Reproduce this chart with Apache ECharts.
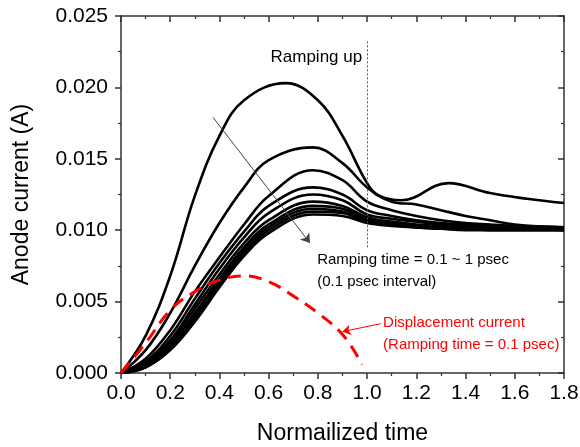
<!DOCTYPE html>
<html>
<head>
<meta charset="utf-8">
<script src="https://cdn.jsdelivr.net/npm/echarts@6/dist/echarts.min.js"></script>
<style>
  html, body { margin: 0; padding: 0; background: #fff; }
  #main { width: 580px; height: 447px; }
</style>
</head>
<body>
<div id="main"></div>
<script>
// ramping time 0.1 psec: own time samples (peak near 0.67, bump near 1.33)
const times1 = [0, 0.1, 0.2, 0.3, 0.4, 0.5, 0.67, 0.8, 0.9, 1.0, 1.05, 1.14, 1.33, 1.5, 1.65, 1.8];
const r01 = [0, 0.0026, 0.0068, 0.0124, 0.0166, 0.0191, 0.0203, 0.0191, 0.0166, 0.0133, 0.0124, 0.0121, 0.0133, 0.0126, 0.0122, 0.0119];

// ramping time 0.2 ... 1.0 psec share these samples (peaks near 0.78)
const times = [0, 0.1, 0.2, 0.3, 0.4, 0.5, 0.6, 0.78, 0.9, 1.0, 1.1, 1.2, 1.3, 1.4, 1.5, 1.6, 1.8];
const r02 = [0, 0.0016, 0.0042, 0.0075, 0.0105, 0.0130, 0.0149, 0.0158, 0.0147, 0.0130, 0.0120, 0.0118, 0.0114, 0.0110, 0.0107, 0.0104, 0.0102];
const r03 = [0, 0.0010, 0.0030, 0.0057, 0.0081, 0.0104, 0.0124, 0.0142, 0.0135, 0.0120, 0.0114, 0.0110, 0.0107, 0.0105, 0.0104, 0.0103, 0.0102];
const r04 = [0, 0.0008, 0.0026, 0.0052, 0.0077, 0.0099, 0.0117, 0.0130, 0.0125, 0.0114, 0.0110, 0.0107, 0.0105, 0.0104, 0.0103, 0.0102, 0.0101];
const r05 = [0, 0.0007, 0.0023, 0.0048, 0.0073, 0.0095, 0.0112, 0.0125, 0.0121, 0.0111, 0.0108, 0.0106, 0.0104, 0.0103, 0.0102, 0.0101, 0.0101];
const r06 = [0, 0.0006, 0.0021, 0.0045, 0.0069, 0.0091, 0.0107, 0.0120, 0.0117, 0.0109, 0.0106, 0.0104, 0.0103, 0.0102, 0.0101, 0.0101, 0.0101];
const r07 = [0, 0.0005, 0.0019, 0.0042, 0.0066, 0.0088, 0.0104, 0.0117, 0.0115, 0.0108, 0.0105, 0.0103, 0.0102, 0.0102, 0.0101, 0.0101, 0.0101];
const r08 = [0, 0.0005, 0.0018, 0.0040, 0.0064, 0.0086, 0.0102, 0.0115, 0.0113, 0.0107, 0.0104, 0.0103, 0.0102, 0.0101, 0.0101, 0.0101, 0.0100];
const r09 = [0, 0.0004, 0.0017, 0.0038, 0.0062, 0.0084, 0.0100, 0.0113, 0.0112, 0.0106, 0.0104, 0.0102, 0.0101, 0.0101, 0.0100, 0.0100, 0.0100];
const r10 = [0, 0.0004, 0.0016, 0.0036, 0.0060, 0.0082, 0.0098, 0.0111, 0.0110, 0.0105, 0.0103, 0.0102, 0.0101, 0.0100, 0.0100, 0.0100, 0.0100];
const laterCurves = [r02, r03, r04, r05, r06, r07, r08, r09, r10];

// displacement current, ramping time 0.1 psec
const dispTimes = [0, 0.1, 0.2, 0.3, 0.4, 0.5, 0.6, 0.7, 0.8, 0.9, 0.98];
const disp = [0, 0.0021, 0.0044, 0.0057, 0.0065, 0.0068, 0.0064, 0.0054, 0.0042, 0.0027, 0.0006];

const xTicks = { min: 0, max: 1.8, interval: 0.2 };
const yTicks = { min: 0, max: 0.025, interval: 0.005 };

const FONT = "Liberation Sans, Arial, sans-serif";
const AXIS_COLOR = "#333";
const SMOOTH = 0.4;

const pairs = (xs, ys) => ys.map((y, i) => [xs[i], y]);

const myChart = echarts.init(document.getElementById("main"));

function axisBase(inside) {
  return {
    type: "value",
    axisLine: { show: true, onZero: false, lineStyle: { color: AXIS_COLOR, width: 1.5 } },
    axisTick: { show: true, inside: inside, length: 6, lineStyle: { color: AXIS_COLOR, width: 1.5 } },
    minorTick: { show: true, splitNumber: 2, length: 3, lineStyle: { color: AXIS_COLOR, width: 1.2 } },
    splitLine: { show: false },
    minorSplitLine: { show: false },
  };
}

function blackCurve(name, xs, ys) {
  return {
    name: name,
    type: "line",
    data: pairs(xs, ys),
    smooth: SMOOTH,
    showSymbol: false,
    lineStyle: { color: "#000", width: 2.6 },
  };
}

const series = [blackCurve("ramp1", times1, r01)];
laterCurves.forEach((ys, i) => series.push(blackCurve("ramp" + (i + 2), times, ys)));

series.push({
  name: "displacement",
  type: "line",
  data: pairs(dispTimes, disp),
  smooth: SMOOTH,
  showSymbol: false,
  z: 5,
  lineStyle: { color: "#f00", width: 3, type: [13, 8] },
  markLine: {
    silent: true,
    symbol: ["none", "arrow"],
    symbolSize: 8,
    label: { show: false },
    lineStyle: { color: "#f00", width: 1, type: "solid" },
    itemStyle: { color: "#f00" },
    data: [[{ coord: [1.055, 0.00345] }, { coord: [0.9, 0.0029] }]],
  },
});

// guides: ramp-end marker and direction arrow
series.push({
  name: "guides",
  type: "line",
  data: [],
  markLine: {
    silent: true,
    label: { show: false },
    data: [
      [
        { coord: [1.0, 0.0088], symbol: "none", lineStyle: { color: "#555", width: 1, type: [2, 2] } },
        { coord: [1.0, 0.0233], symbol: "none" },
      ],
      [
        { coord: [0.374, 0.0179], symbol: "none", lineStyle: { color: "#444", width: 1, type: "solid" } },
        { coord: [0.768, 0.0091], symbol: "arrow", symbolSize: 9, itemStyle: { color: "#222" } },
      ],
    ],
  },
});

myChart.setOption({
  animation: false,
  grid: { left: 121, right: 16, top: 16, bottom: 74, outerBoundsMode: "none" },
  xAxis: [
    Object.assign(axisBase(false), {
      position: "bottom",
      min: xTicks.min, max: xTicks.max, interval: xTicks.interval,
      name: "Normailized time",
      nameLocation: "middle",
      nameGap: 49,
      nameTextStyle: { fontFamily: FONT, fontSize: 23, color: "#000" },
      axisLabel: { margin: 10, fontFamily: FONT, fontSize: 21, color: "#000", formatter: (v) => v.toFixed(1) },
    }),
    Object.assign(axisBase(true), {
      position: "top",
      min: xTicks.min, max: xTicks.max, interval: xTicks.interval,
      axisLabel: { show: false },
    }),
  ],
  yAxis: [
    Object.assign(axisBase(false), {
      position: "left",
      min: yTicks.min, max: yTicks.max, interval: yTicks.interval,
      name: "Anode current (A)",
      nameLocation: "middle",
      nameGap: 88,
      nameTextStyle: { fontFamily: FONT, fontSize: 23, color: "#000" },
      axisLabel: { margin: 13, fontFamily: FONT, fontSize: 21, color: "#000", formatter: (v) => v.toFixed(3) },
    }),
    Object.assign(axisBase(true), {
      position: "right",
      min: yTicks.min, max: yTicks.max, interval: yTicks.interval,
      axisLabel: { show: false },
    }),
  ],
  series: series,
});

// annotation texts anchored to data coordinates
const notes = [
  { text: "Ramping up", at: [0.98, 0.02213], align: "right", size: 17, color: "#000" },
  { text: "Ramping time = 0.1 ~ 1 psec", at: [0.797, 0.00791], align: "left", size: 15, color: "#000" },
  { text: "(0.1 psec interval)", at: [0.797, 0.00637], align: "left", size: 15, color: "#000" },
  { text: "Displacement current", at: [1.065, 0.0035], align: "left", size: 15, color: "#f00" },
  { text: "(Ramping time = 0.1 psec)", at: [1.065, 0.00196], align: "left", size: 15, color: "#f00" },
];

myChart.setOption({
  graphic: notes.map((n) => {
    const p = myChart.convertToPixel({ xAxisIndex: 0, yAxisIndex: 0 }, n.at);
    return {
      type: "text",
      x: p[0],
      y: p[1],
      z: 10,
      style: {
        text: n.text,
        fill: n.color,
        font: n.size + "px " + FONT,
        textAlign: n.align,
        textVerticalAlign: "middle",
      },
    };
  }),
});
</script>
</body>
</html>
